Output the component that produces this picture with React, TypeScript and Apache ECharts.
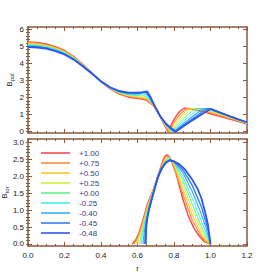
import React, { useEffect, useRef } from "react";
import * as echarts from "echarts";

const seriesNames = ["+1.00", "+0.75", "+0.50", "+0.25", "+0.00", "-0.25", "-0.40", "-0.45", "-0.48"];
const seriesColors = ["#ff4a4a", "#ff8c3c", "#ffc81e", "#d2f03c", "#5ef08a", "#3ceef0", "#30b4f8", "#3a7cf8", "#2f55f0"];
const seriesWidths = [1.5, 1.2, 1, 1, 1, 1, 1.2, 1.4, 1.8];

// B_pol (top panel): [r, value]
const polP100 = [[0,5.25],[0.05,5.22],[0.1,5.13],[0.15,4.97],[0.2,4.75],[0.25,4.4],[0.3,3.95],[0.35,3.44],[0.4,2.92],[0.45,2.5],[0.5,2.2],[0.55,2.02],[0.6,1.95],[0.65,1.85],[0.69,1.5],[0.726,0.85],[0.754,0.28],[0.767,0],[0.8,0.72],[0.83,1.18],[0.855,1.37],[0.9,1.33],[0.95,1.2],[1.0,1.05],[1.05,0.9],[1.1,0.75],[1.15,0.6],[1.2,0.45]];
const polP075 = [[0,5.21],[0.05,5.18],[0.1,5.09],[0.15,4.94],[0.2,4.72],[0.25,4.38],[0.3,3.93],[0.35,3.43],[0.4,2.92],[0.45,2.51],[0.5,2.22],[0.55,2.06],[0.6,1.99],[0.65,1.9],[0.69,1.52],[0.726,0.85],[0.754,0.31],[0.772,0],[0.8,0.55],[0.835,1.05],[0.87,1.37],[0.92,1.33],[0.95,1.26],[1.0,1.11],[1.05,0.95],[1.1,0.79],[1.15,0.63],[1.2,0.47]];
const polP050 = [[0,5.17],[0.05,5.14],[0.1,5.06],[0.15,4.9],[0.2,4.69],[0.25,4.35],[0.3,3.92],[0.35,3.43],[0.4,2.93],[0.45,2.53],[0.5,2.25],[0.55,2.09],[0.6,2.04],[0.65,1.92],[0.69,1.53],[0.726,0.86],[0.754,0.34],[0.777,0],[0.81,0.55],[0.85,1.05],[0.885,1.37],[0.93,1.33],[0.95,1.3],[1.0,1.16],[1.05,1.0],[1.1,0.83],[1.15,0.66],[1.2,0.49]];
const polP025 = [[0,5.13],[0.05,5.11],[0.1,5.02],[0.15,4.87],[0.2,4.66],[0.25,4.33],[0.3,3.9],[0.35,3.42],[0.4,2.93],[0.45,2.54],[0.5,2.27],[0.55,2.13],[0.6,2.08],[0.61,2.1],[0.65,1.97],[0.69,1.54],[0.726,0.86],[0.754,0.36],[0.782,0],[0.82,0.55],[0.86,1.0],[0.9,1.36],[0.95,1.32],[1.0,1.2],[1.05,1.04],[1.1,0.86],[1.15,0.68],[1.2,0.5]];
const polP000 = [[0,5.09],[0.05,5.07],[0.1,4.99],[0.15,4.84],[0.2,4.63],[0.25,4.31],[0.3,3.89],[0.35,3.42],[0.4,2.94],[0.45,2.55],[0.5,2.29],[0.55,2.16],[0.6,2.12],[0.62,2.16],[0.65,2.02],[0.69,1.55],[0.726,0.86],[0.754,0.39],[0.78,0.06],[0.787,0],[0.83,0.52],[0.875,0.98],[0.92,1.36],[0.96,1.33],[1.0,1.24],[1.05,1.07],[1.1,0.88],[1.15,0.7],[1.2,0.51]];
const polM025 = [[0,5.06],[0.05,5.03],[0.1,4.95],[0.15,4.81],[0.2,4.6],[0.25,4.28],[0.3,3.87],[0.35,3.41],[0.4,2.94],[0.45,2.57],[0.5,2.32],[0.55,2.2],[0.6,2.16],[0.63,2.23],[0.65,2.1],[0.69,1.56],[0.726,0.87],[0.754,0.42],[0.78,0.12],[0.793,0],[0.84,0.5],[0.89,0.95],[0.94,1.35],[1.0,1.29],[1.05,1.1],[1.1,0.9],[1.15,0.71],[1.2,0.52]];
const polM040 = [[0,5.02],[0.05,4.99],[0.1,4.92],[0.15,4.78],[0.2,4.57],[0.25,4.26],[0.3,3.86],[0.35,3.41],[0.4,2.94],[0.45,2.58],[0.5,2.34],[0.55,2.23],[0.6,2.21],[0.64,2.29],[0.66,2.08],[0.69,1.57],[0.726,0.87],[0.754,0.45],[0.78,0.17],[0.799,0],[0.85,0.47],[0.905,0.92],[0.96,1.35],[1.0,1.32],[1.05,1.11],[1.1,0.91],[1.15,0.72],[1.2,0.53]];
const polM045 = [[0,4.98],[0.05,4.96],[0.1,4.89],[0.15,4.75],[0.2,4.54],[0.25,4.24],[0.3,3.84],[0.35,3.4],[0.4,2.95],[0.45,2.59],[0.5,2.36],[0.55,2.26],[0.6,2.25],[0.648,2.33],[0.665,2.05],[0.69,1.58],[0.726,0.88],[0.754,0.47],[0.78,0.21],[0.804,0],[0.86,0.45],[0.92,0.9],[0.98,1.34],[1.0,1.33],[1.05,1.12],[1.1,0.92],[1.15,0.72],[1.2,0.54]];
const polM048 = [[0,4.95],[0.05,4.93],[0.1,4.86],[0.15,4.72],[0.2,4.52],[0.25,4.22],[0.3,3.83],[0.35,3.4],[0.4,2.95],[0.45,2.6],[0.5,2.38],[0.55,2.29],[0.6,2.28],[0.63,2.31],[0.653,2.36],[0.67,2.05],[0.69,1.6],[0.726,0.88],[0.754,0.49],[0.78,0.24],[0.809,0],[0.85,0.3],[0.9,0.66],[0.95,1.0],[1.0,1.33],[1.05,1.13],[1.1,0.93],[1.15,0.73],[1.2,0.55]];

// B_tor (bottom panel): [r, value]
const torP100 = [[0.571,0],[0.59,0.12],[0.607,0.31],[0.63,0.7],[0.653,1.15],[0.69,1.65],[0.72,2.15],[0.74,2.47],[0.752,2.6],[0.762,2.63],[0.775,2.57],[0.79,2.4],[0.81,2.1],[0.85,1.3],[0.88,0.8],[0.91,0.46],[0.94,0.22],[0.965,0.07],[1.0,0]];
const torP075 = [[0.58,0],[0.6,0.18],[0.615,0.38],[0.635,0.75],[0.655,1.15],[0.69,1.65],[0.72,2.14],[0.74,2.44],[0.753,2.57],[0.764,2.6],[0.78,2.52],[0.8,2.28],[0.85,1.45],[0.9,0.7],[0.95,0.22],[0.975,0.07],[1.0,0]];
const torP050 = [[0.59,0],[0.605,0.17],[0.62,0.42],[0.64,0.8],[0.66,1.18],[0.69,1.64],[0.72,2.13],[0.745,2.45],[0.766,2.57],[0.785,2.5],[0.8,2.33],[0.85,1.6],[0.9,0.85],[0.95,0.3],[0.975,0.11],[1.0,0]];
const torP025 = [[0.6,0],[0.612,0.2],[0.625,0.45],[0.645,0.85],[0.665,1.22],[0.69,1.63],[0.72,2.12],[0.745,2.42],[0.768,2.55],[0.785,2.5],[0.8,2.37],[0.85,1.74],[0.9,1.0],[0.95,0.4],[0.975,0.16],[1.0,0]];
const torP000 = [[0.61,0],[0.62,0.22],[0.632,0.5],[0.65,0.9],[0.668,1.25],[0.69,1.61],[0.72,2.1],[0.745,2.39],[0.77,2.53],[0.785,2.5],[0.8,2.4],[0.85,1.87],[0.9,1.17],[0.95,0.52],[0.975,0.23],[1.0,0]];
const torM025 = [[0.62,0],[0.628,0.25],[0.638,0.55],[0.655,0.95],[0.672,1.3],[0.69,1.6],[0.72,2.08],[0.75,2.38],[0.773,2.51],[0.79,2.48],[0.8,2.42],[0.85,1.98],[0.9,1.35],[0.95,0.68],[0.975,0.33],[1.0,0]];
const torM040 = [[0.63,0],[0.636,0.3],[0.645,0.62],[0.66,1.0],[0.675,1.3],[0.69,1.58],[0.72,2.06],[0.75,2.37],[0.776,2.49],[0.8,2.43],[0.85,2.09],[0.9,1.55],[0.95,0.88],[0.975,0.48],[1.0,0]];
const torM045 = [[0.64,0],[0.643,0.4],[0.65,0.7],[0.662,1.0],[0.676,1.3],[0.69,1.56],[0.715,2.0],[0.74,2.28],[0.76,2.42],[0.778,2.48],[0.8,2.44],[0.85,2.18],[0.9,1.73],[0.95,1.1],[0.975,0.65],[0.99,0.35],[1.0,0]];
const torM048 = [[0.645,0],[0.648,0.5],[0.655,0.8],[0.665,1.05],[0.677,1.3],[0.69,1.55],[0.71,1.95],[0.73,2.22],[0.755,2.41],[0.78,2.47],[0.8,2.44],[0.83,2.35],[0.86,2.2],[0.9,1.9],[0.93,1.62],[0.95,1.35],[0.97,0.95],[0.985,0.6],[1.0,0]];

const polSeries = [polP100, polP075, polP050, polP025, polP000, polM025, polM040, polM045, polM048];
const torSeries = [torP100, torP075, torP050, torP025, torP000, torM025, torM040, torM045, torM048];

// tick values
const rTicks = [0, 0.2, 0.4, 0.6, 0.8, 1.0, 1.2];
const polMajor = [0, 1, 2, 3, 4, 5, 6];
const torMajor = [0, 0.5, 1.0, 1.5, 2.0, 2.5, 3.0];
const steps = (a: number, b: number, s: number) => {
  const out: number[] = [];
  for (let k = 0; a + k * s <= b + 1e-9; k++) out.push(+(a + k * s).toFixed(3));
  return out;
};
const polMinor = steps(0, 6, 0.2);
const torMinor = steps(0, 3, 0.1);

const AX = "#8a5a3c";
const FONT = "Liberation Sans";
const TXT = "#222";

function xAxis(gi: number, pos: string, labels: boolean, name?: string) {
  return {
    type: "value", gridIndex: gi, position: pos, min: rTicks[0], max: rTicks[rTicks.length - 1], interval: 0.2,
    axisLine: { show: true, onZero: false, lineStyle: { color: AX, width: 1.5 } },
    axisTick: { show: true, inside: true, length: 4, lineStyle: { color: AX } },
    minorTick: { show: true, splitNumber: 4, length: 2, lineStyle: { color: AX } },
    splitLine: { show: false }, minorSplitLine: { show: false },
    axisLabel: { show: labels, margin: 5, fontSize: 8, color: TXT, fontFamily: FONT, formatter: (v: number) => v.toFixed(1) },
    name: name || "", nameLocation: "middle", nameGap: 18, nameMoveOverlap: false,
    nameTextStyle: { fontSize: 8, color: TXT, fontFamily: FONT },
  };
}

function yAxes(gi: number, min: number, max: number, major: number[], minor: number[], fmt: (v: number) => string, name: string, gap: number) {
  const base = { type: "value", gridIndex: gi, min, max, splitLine: { show: false } };
  return [
    {
      ...base, position: "left",
      axisLine: { show: true, onZero: false, lineStyle: { color: AX, width: 1.5 } },
      axisTick: { show: true, inside: true, length: 4, customValues: major, lineStyle: { color: AX } },
      axisLabel: { show: true, customValues: major, margin: 4, fontSize: 8, color: TXT, fontFamily: FONT, formatter: fmt },
      name, nameLocation: "middle", nameGap: gap, nameMoveOverlap: false,
      nameTextStyle: { fontSize: 8, color: TXT, fontFamily: FONT, rich: { s: { fontSize: 6, fontFamily: FONT, color: TXT, padding: [5, 0, 0, 0] } } },
    },
    {
      ...base, position: "left",
      axisLine: { show: false },
      axisTick: { show: true, inside: true, length: 2, customValues: minor, lineStyle: { color: AX } },
      axisLabel: { show: false },
    },
    {
      ...base, position: "right",
      axisLine: { show: true, onZero: false, lineStyle: { color: AX, width: 1.5 } },
      axisTick: { show: true, inside: true, length: 4, customValues: major, lineStyle: { color: AX } },
      axisLabel: { show: false },
    },
    {
      ...base, position: "right",
      axisLine: { show: false },
      axisTick: { show: true, inside: true, length: 2, customValues: minor, lineStyle: { color: AX } },
      axisLabel: { show: false },
    },
  ];
}

export default function App() {
  const ref = useRef<HTMLDivElement>(null);
  useEffect(() => {
    if (!ref.current) return;
    const chart = echarts.init(ref.current, undefined, { renderer: "svg" });
    const mk = (data: number[][], i: number, xi: number, yi: number) => ({
      type: "line", name: seriesNames[i], xAxisIndex: xi, yAxisIndex: yi, data,
      symbol: "none", showSymbol: false, silent: true,
      lineStyle: { color: seriesColors[i], width: seriesWidths[i] },
      itemStyle: { color: seriesColors[i] },
    });
    chart.setOption({
      animation: false,
      backgroundColor: "#ffffff",
      grid: [
        { left: 28, top: 27, width: 219, height: 106, outerBoundsMode: "none", containLabel: false },
        { left: 28, top: 139, width: 219, height: 107, outerBoundsMode: "none", containLabel: false },
      ],
      xAxis: [xAxis(0, "bottom", false), xAxis(0, "top", false), xAxis(1, "bottom", true, "r"), xAxis(1, "top", false)],
      yAxis: [
        ...yAxes(0, -0.08, 6.13, polMajor, polMinor, (v: number) => String(Math.round(v)), "B{s|pol}", 13),
        ...yAxes(1, -0.06, 3.1, torMajor, torMinor, (v: number) => v.toFixed(1), "B{s|tor}", 18),
      ],
      legend: {
        data: seriesNames.map((n, i) => ({ name: n, icon: "rect", itemStyle: { color: seriesColors[i], opacity: 0.8 } })),
        orient: "vertical", left: 36, top: 144,
        itemWidth: 29, itemHeight: 2, itemGap: 2, selectedMode: false,
        textStyle: { color: "#3a3a8a", fontSize: 8, lineHeight: 8, fontFamily: FONT, padding: [0, 0, 0, 4] },
      },
      series: [
        ...polSeries.map((d, i) => mk(d, i, 0, 0)),
        ...torSeries.map((d, i) => mk(d, i, 2, 4)),
      ],
    });
    return () => chart.dispose();
  }, []);
  return <div ref={ref} style={{ position: "fixed", left: 0, top: 0, width: 274, height: 274, background: "#fff" }} />;
}
